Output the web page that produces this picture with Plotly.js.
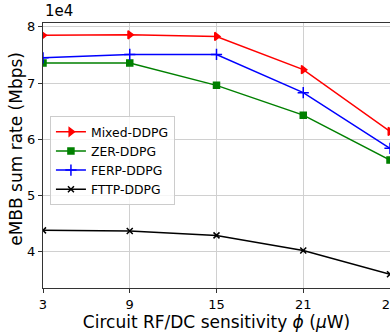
<!DOCTYPE html>
<html>
<head>
<meta charset="utf-8">
<script src="https://cdn.plot.ly/plotly-3.0.1.min.js"></script>
<style>html,body{margin:0;padding:0;background:#fff;}#chart{width:390px;height:333px;}</style>
</head>
<body>
<div id="chart"></div>
<script>
// Data (eMBB sum rate in Mbps)
const sensitivity = [3, 9, 15, 21, 27];
const mixedDDPG = [78500, 78600, 78300, 72400, 61400];
const zerDDPG   = [73600, 73600, 69600, 64300, 56300];
const ferpDDPG  = [74500, 75100, 75100, 68300, 58400];
const fttpDDPG  = [43800, 43700, 42900, 40200, 36000];
const yTickVals = [40000, 50000, 60000, 70000, 80000];
const yTickText = ['4', '5', '6', '7', '8'];
const xTickVals = [3, 9, 15, 21, 27];

const font = 'DejaVu Sans, sans-serif';
function tr(name, y, color, symbol, size) {
  return {
    x: sensitivity, y: y, name: name, type: 'scatter', mode: 'lines+markers',
    line: {color: color, width: 1.5},
    marker: {color: color, symbol: symbol, size: size, line: {color: color, width: 1.5}}
  };
}
const data = [
  tr('Mixed-DDPG', mixedDDPG, '#ff0000', 'triangle-right', 7),
  tr('ZER-DDPG', zerDDPG, '#008000', 'square', 6),
  tr('FERP-DDPG', ferpDDPG, '#0000ff', 'cross-thin', 8),
  tr('FTTP-DDPG', fttpDDPG, '#000000', 'x-thin', 6)
];
const layout = {
  width: 390, height: 333,
  margin: {l: 43, r: 0, t: 23, b: 45},
  paper_bgcolor: '#fff', plot_bgcolor: '#fff',
  font: {family: font, size: 13, color: '#000'},
  showlegend: true,
  legend: {
    x: 0.02, y: 0.648, xanchor: 'left', yanchor: 'top',
    bgcolor: 'rgba(255,255,255,0.8)', bordercolor: '#cccccc', borderwidth: 1,
    font: {family: font, size: 12.4, color: '#000'},
    tracegroupgap: 0, itemwidth: 30
  },
  xaxis: {
    range: [3, 27], tickvals: xTickVals, ticktext: xTickVals.map(String),
    showgrid: true, gridcolor: '#d0d0d0', gridwidth: 1,
    showline: true, linecolor: '#333', linewidth: 1, mirror: true,
    ticks: 'outside', ticklen: 4, tickcolor: '#333', zeroline: false,
    ticklabeloverflow: 'allow',
    tickfont: {family: font, size: 13, color: '#000'},
    title: {text: 'Circuit RF/DC sensitivity <i>ϕ</i> (<i>μ</i>W)', font: {family: font, size: 17, color: '#000'}, standoff: 1}
  },
  yaxis: {
    range: [33540, 80700], tickvals: yTickVals, ticktext: yTickText,
    showgrid: true, gridcolor: '#d0d0d0', gridwidth: 1,
    showline: true, linecolor: '#333', linewidth: 1, mirror: false,
    ticks: 'outside', ticklen: 4, tickcolor: '#333', zeroline: false,
    tickfont: {family: font, size: 13, color: '#000'}
  },
  annotations: [{
    text: '1e4', xref: 'paper', yref: 'paper', x: 0, y: 1, xanchor: 'left', yanchor: 'bottom',
    yshift: 1, showarrow: false, font: {family: font, size: 15, color: '#000'}
  }, {
    text: 'eMBB sum rate (Mbps)', xref: 'paper', yref: 'paper', x: -0.078, y: 0.525,
    xanchor: 'center', yanchor: 'middle', textangle: -90, showarrow: false,
    font: {family: font, size: 17, color: '#000'}
  }]
};
Plotly.newPlot('chart', data, layout, {displayModeBar: false, staticPlot: true});
</script>
</body>
</html>
